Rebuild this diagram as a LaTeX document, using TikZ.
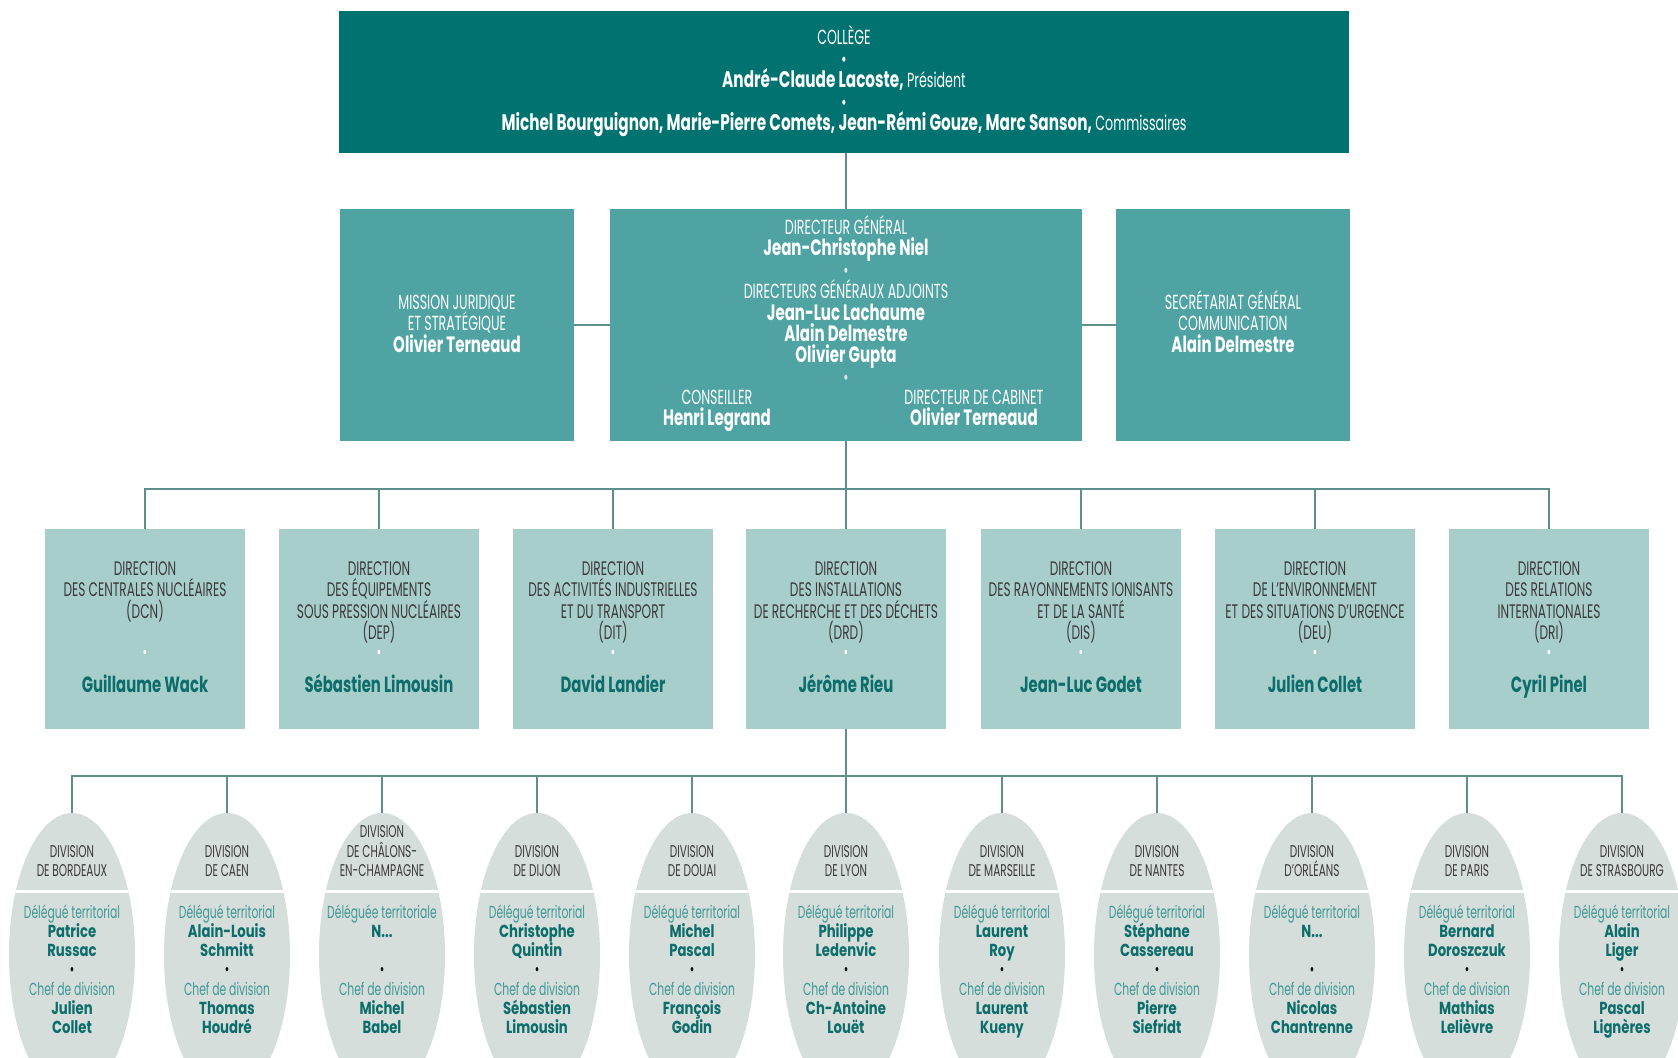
\documentclass[tikz,border=0pt]{standalone}
\usepackage{fontspec}
\setmainfont{Poppins}[FakeStretch=0.62]
\newfontfamily\nmfont{Poppins}[FakeStretch=0.675]
\newfontfamily\elfont{Poppins}[FakeStretch=0.76]
\usetikzlibrary{shapes.geometric}
\definecolor{cdark}{HTML}{007370}
\definecolor{cmid}{HTML}{4FA4A3}
\definecolor{clight}{HTML}{A8CECB}
\definecolor{cell}{HTML}{D6DEDB}
\definecolor{cline}{HTML}{5E8F8D}
\definecolor{ctxt}{HTML}{3A3A3A}
\definecolor{cname}{HTML}{0C6D6B}
\definecolor{ccap}{HTML}{3F9895}
\lineskiplimit=-100pt
\lineskip=0pt
\newcommand\topst{\rule{0pt}{10pt}}
\newcommand\bnm[1]{{\fontsize{11.1}{10.7}\nmfont\bfseries #1}}
\newcommand\cnm[1]{{\fontsize{11.3}{10.7}\nmfont\bfseries #1}}
\newcommand\ellname[1]{{\elfont\bfseries\color{cname}#1}}
\newcommand\ellbul{{\color{black}\textbullet}}
\newcommand\mkdiv[4]{%
  \node[ell] (#1) at (#2,955) {};
  \begin{scope}
    \clip (#2,955) ellipse [x radius=31.5pt, y radius=71pt];
    \draw[sepline] (#2-80,891) -- (#2+80,891);
  \end{scope}
  \node[divcap] (#1c) at (#2,877) {#3};
  \node[divlow] (#1l) at (#2,904) {#4};
}
\newcommand\mkdir[4]{%
  \node[dirbox] (#1) at (#2,629) {};
  \node[dircap] (#1c) at (#2,555) {\topst#3};
  \node[dirdot] (#1d) at (#2,654) {\textbullet};
  \node[dirname] (#1n) at (#2,692) {#4};
}
\begin{document}
\begin{tikzpicture}[x=0.5pt,y=-0.5pt,
  conn/.style={draw=cline, line width=0.75pt},
  collbox/.style={fill=cdark, minimum width=505pt, minimum height=71pt, inner sep=0, outer sep=0},
  midbox/.style={fill=cmid, minimum height=116pt, inner sep=0, outer sep=0},
  midtext/.style={anchor=north, inner sep=0, text=white, align=center, font=\fontsize{10.2}{10.7}\selectfont},
  dirbox/.style={fill=clight, minimum width=100pt, minimum height=100pt, inner sep=0, outer sep=0},
  dircap/.style={anchor=north, inner sep=0, align=center, text=ctxt, font=\fontsize{9.8}{10.7}\selectfont},
  dirdot/.style={inner sep=0, text=white, font=\fontsize{9}{10.7}\selectfont},
  dirname/.style={anchor=base, inner sep=0, text=cname, font=\fontsize{11}{12}\nmfont\bfseries},
  ell/.style={ellipse, fill=cell, minimum width=63pt, minimum height=142pt, inner sep=0, outer sep=0},
  divcap/.style={anchor=south, inner sep=0, align=center, text=ctxt, font=\fontsize{8.5}{9.65}\selectfont},
  divlow/.style={anchor=north, inner sep=0, align=center, text=ccap, font=\fontsize{8.7}{9.65}\selectfont},
  sepline/.style={white, line width=1.5pt}
]
\useasboundingbox (0,0) rectangle (1678,1057);
\fill[white] (0,0) rectangle (1678,1057);

% ---------- College ----------
\node[collbox] (coll) at (844,82) {};
\node[midtext] (collt) at (844,24.5) {\topst COLLÈGE\\\textbullet\\\cnm{André-Claude Lacoste,} Président\\\textbullet\\\cnm{Michel Bourguignon, Marie-Pierre Comets, Jean-Rémi Gouze, Marc Sanson,} Commissaires};

% ---------- Row 2 ----------
\node[midbox, minimum width=117pt] (mis) at (457,325) {};
\node[midbox, minimum width=236pt] (dg) at (846,325) {};
\node[midbox, minimum width=117pt] (sg) at (1233,325) {};
\node[midtext] (mist) at (457,289) {\topst MISSION JURIDIQUE\\ET STRATÉGIQUE\\\bnm{Olivier Terneaud}};
\node[midtext] (sgt) at (1233,289) {\topst SECRÉTARIAT GÉNÉRAL\\COMMUNICATION\\\bnm{Alain Delmestre}};
\node[midtext] (dgt) at (846,214) {\topst DIRECTEUR GÉNÉRAL\\\bnm{Jean-Christophe Niel}\\{\color{white!75!cmid}\textbullet}\\DIRECTEURS GÉNÉRAUX ADJOINTS\\\bnm{Jean-Luc Lachaume}\\\bnm{Alain Delmestre}\\\bnm{Olivier Gupta}\\{\color{white!75!cmid}\textbullet}};
\node[midtext] (cons) at (717,384) {\topst CONSEILLER\\\bnm{Henri Legrand}};
\node[midtext] (cab) at (974,384) {\topst DIRECTEUR DE CABINET\\\bnm{Olivier Terneaud}};

\draw[conn] (coll.south -| dg.north) -- (dg.north);
\draw[conn] (mis) -- (dg);
\draw[conn] (dg) -- (sg);

% ---------- Directions ----------
\mkdir{dcn}{145}{DIRECTION\\DES CENTRALES NUCLÉAIRES\\(DCN)}{Guillaume Wack}
\mkdir{dep}{379}{DIRECTION\\DES ÉQUIPEMENTS\\SOUS PRESSION NUCLÉAIRES\\(DEP)}{Sébastien Limousin}
\mkdir{dit}{613}{DIRECTION\\DES ACTIVITÉS INDUSTRIELLES\\ET DU TRANSPORT\\(DIT)}{David Landier}
\mkdir{drd}{846}{DIRECTION\\DES INSTALLATIONS\\DE RECHERCHE ET DES DÉCHETS\\(DRD)}{Jérôme Rieu}
\mkdir{dis}{1081}{DIRECTION\\DES RAYONNEMENTS IONISANTS\\ET DE LA SANTÉ\\(DIS)}{Jean-Luc Godet}
\mkdir{deu}{1315}{DIRECTION\\DE L’ENVIRONNEMENT\\ET DES SITUATIONS D’URGENCE\\(DEU)}{Julien Collet}
\mkdir{dri}{1549}{DIRECTION\\DES RELATIONS\\INTERNATIONALES\\(DRI)}{Cyril Pinel}

\coordinate (bus1) at (846,489);
\draw[conn] (dg.south) -- (bus1);
\foreach \d in {dcn,dep,dit,drd,dis,deu,dri}{\draw[conn] (\d.north) |- (bus1);}

% ---------- Divisions ----------
\mkdiv{bor}{72}{DIVISION\\DE BORDEAUX}{Délégué territorial\\\ellname{Patrice}\\\ellname{Russac}\\\ellbul\\Chef de division\\\ellname{Julien}\\\ellname{Collet}}
\mkdiv{cae}{227}{DIVISION\\DE CAEN}{Délégué territorial\\\ellname{Alain-Louis}\\\ellname{Schmitt}\\\ellbul\\Chef de division\\\ellname{Thomas}\\\ellname{Houdré}}
\mkdiv{cha}{382}{DIVISION\\DE CHÂLONS-\\EN-CHAMPAGNE}{Déléguée territoriale\\\ellname{N...}\\~\\\ellbul\\Chef de division\\\ellname{Michel}\\\ellname{Babel}}
\mkdiv{dij}{537}{DIVISION\\DE DIJON}{Délégué territorial\\\ellname{Christophe}\\\ellname{Quintin}\\\ellbul\\Chef de division\\\ellname{Sébastien}\\\ellname{Limousin}}
\mkdiv{dou}{692}{DIVISION\\DE DOUAI}{Délégué territorial\\\ellname{Michel}\\\ellname{Pascal}\\\ellbul\\Chef de division\\\ellname{François}\\\ellname{Godin}}
\mkdiv{lyo}{846}{DIVISION\\DE LYON}{Délégué territorial\\\ellname{Philippe}\\\ellname{Ledenvic}\\\ellbul\\Chef de division\\\ellname{Ch-Antoine}\\\ellname{Louët}}
\mkdiv{mar}{1002}{DIVISION\\DE MARSEILLE}{Délégué territorial\\\ellname{Laurent}\\\ellname{Roy}\\\ellbul\\Chef de division\\\ellname{Laurent}\\\ellname{Kueny}}
\mkdiv{nan}{1157}{DIVISION\\DE NANTES}{Délégué territorial\\\ellname{Stéphane}\\\ellname{Cassereau}\\\ellbul\\Chef de division\\\ellname{Pierre}\\\ellname{Siefridt}}
\mkdiv{orl}{1312}{DIVISION\\D’ORLÉANS}{Délégué territorial\\\ellname{N...}\\~\\\ellbul\\Chef de division\\\ellname{Nicolas}\\\ellname{Chantrenne}}
\mkdiv{par}{1467}{DIVISION\\DE PARIS}{Délégué territorial\\\ellname{Bernard}\\\ellname{Doroszczuk}\\\ellbul\\Chef de division\\\ellname{Mathias}\\\ellname{Lelièvre}}
\mkdiv{str}{1622}{DIVISION\\DE STRASBOURG}{Délégué territorial\\\ellname{Alain}\\\ellname{Liger}\\\ellbul\\Chef de division\\\ellname{Pascal}\\\ellname{Lignères}}

\coordinate (bus2) at (846,776);
\draw[conn] (drd.south) -- (bus2);
\foreach \e in {bor,cae,cha,dij,dou,lyo,mar,nan,orl,par,str}{\draw[conn] (\e.north) |- (bus2);}
\end{tikzpicture}
\end{document}
